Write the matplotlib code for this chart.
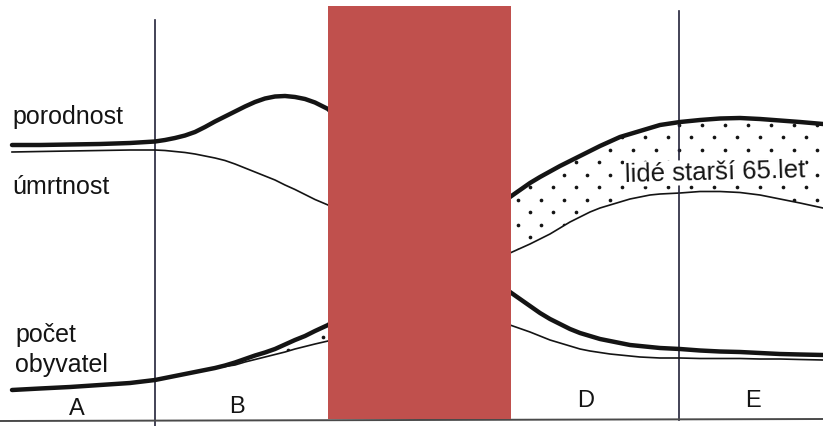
import matplotlib
matplotlib.use("Agg")
import matplotlib.pyplot as plt
import numpy as np
from matplotlib.patches import Rectangle
from matplotlib.path import Path

plt.rcParams["font.family"] = ["Liberation Sans", "DejaVu Sans"]

# Diagram runs in drawing units (0..823 wide, 0..427 tall, y pointing down)
x = np.array([12, 40, 70, 100, 130, 155, 165, 175, 185, 195, 205, 215, 225, 235, 245, 255,
              265, 275, 285, 295, 305, 315, 328,
              510, 520, 530, 540, 550, 560, 570, 580, 590, 600, 610, 620, 630, 640, 650,
              660, 670, 680, 700, 720, 740, 760, 780, 800, 823])

birth_rate = np.array([146, 146, 145.5, 145, 144, 142.5, 141, 139, 136.5, 133, 128, 122.5, 117.5,
                       112.5, 107.5, 103, 99.5, 97.5, 97, 98, 100, 103.5, 110,
                       293, 300, 307, 314, 320, 325, 330, 334, 337, 340, 342, 344, 346, 347, 348,
                       349, 349.5, 350, 351.5, 352.5, 353, 354, 355, 355.5, 356])
death_rate = np.array([153, 152.5, 152, 151.5, 151, 151, 151.5, 152.5, 153.5, 155, 157, 159, 161.5,
                       165, 169, 173, 177, 181, 186, 190.5, 195.5, 200.5, 206,
                       326, 329.5, 333, 337, 341, 344, 347, 350, 352, 353.5, 355, 356, 357, 358,
                       358.5, 359, 359, 359, 359.5, 359.5, 359.5, 360, 360, 360.5, 361])
population = np.array([391, 389.5, 388, 386, 384, 381, 379, 377, 375, 373, 371, 369, 366.5,
                       363.5, 360, 356.5, 353.5, 350, 345.5, 341, 337, 332, 326,
                       198, 191, 184, 178, 172.5, 167, 162, 157, 152, 147, 142.5, 138, 135, 132,
                       129, 126, 124.5, 123, 121, 119.5, 119, 120, 121.5, 123, 125])
under_65 = np.array([391, 389.5, 388, 386, 384, 381, 379, 377, 375, 373, 371, 369, 367.5,
                     366, 363, 360.5, 358, 355.5, 353, 350, 347.5, 345, 342,
                     254, 249.5, 245, 240, 235, 229, 223, 218, 213, 209, 206, 203, 200, 198,
                     196, 195, 194.5, 194, 192.5, 192.5, 193.5, 196, 200, 204, 209])

phase_bounds = [155, 679]
phase_labels = ["A", "B", "D", "E"]
phase_label_x = [77, 237, 586, 753]
phase_label_y = [409, 407, 401, 401]

fig = plt.figure(figsize=(8.23, 4.27), dpi=100)
ax = fig.add_axes([0, 0, 1, 1])
ax.set_xlim(0, 823)
ax.set_ylim(427, 0)
ax.axis("off")

ink = "#141414"

# share of people older than 65 - dotted band
band = ax.fill_between(x, population, under_65, facecolor="none", edgecolor="none", zorder=1)
band_path = Path.make_compound_path(*band.get_paths())

# staggered dot screen, clipped to the band
dot_x, dot_y = [], []
for i, row_y in enumerate(np.arange(113, 400, 12.5)):
    start = 1 + (11.5 if i % 2 else 0)
    cols = np.arange(start, 823, 23)
    dot_x.extend(cols)
    dot_y.extend([row_y] * len(cols))
dots = ax.scatter(dot_x, dot_y, s=7, color=ink, linewidths=0, zorder=1)
dots.set_clip_path(band_path, ax.transData)

ax.plot(x, birth_rate, color=ink, lw=3.2, solid_capstyle="round", solid_joinstyle="round", zorder=3)
ax.plot(x, death_rate, color=ink, lw=1.2, zorder=3)
ax.plot(x, population, color=ink, lw=3.2, solid_capstyle="round", solid_joinstyle="round", zorder=3)
ax.plot(x, under_65, color=ink, lw=1.2, zorder=2)

# phase boundaries and baseline
ax.plot([phase_bounds[0]] * 2, [21, 427], color="#23233a", lw=1.2, zorder=2)
ax.plot([phase_bounds[1]] * 2, [12, 421], color="#23233a", lw=1.2, zorder=2)
ax.plot([0, 823], [422, 420], color="#4a4a4a", lw=1.4, zorder=2)

for lab, lx, ly in zip(phase_labels, phase_label_x, phase_label_y):
    ax.text(lx, ly, lab, fontsize=17, ha="center", va="center", color=ink)

ax.text(12, 124, "porodnost", fontsize=18, ha="left", va="baseline", color=ink)
ax.text(12, 194, "úmrtnost", fontsize=18, ha="left", va="baseline", color=ink)
ax.text(15, 342, "počet", fontsize=18, ha="left", va="baseline", color=ink)
ax.text(15, 372, "obyvatel", fontsize=18, ha="left", va="baseline", color=ink)
ax.text(715, 173, "lidé starší 65.let", fontsize=18.5, ha="center", va="center",
        rotation=1.5, color=ink, zorder=4,
        bbox=dict(facecolor="white", edgecolor="none", pad=0.3))

# covering box over phase C
ax.add_patch(Rectangle((328, 7), 183, 413, facecolor="#c0504d", edgecolor="none", zorder=10))

fig.savefig("out.png", dpi=100)
